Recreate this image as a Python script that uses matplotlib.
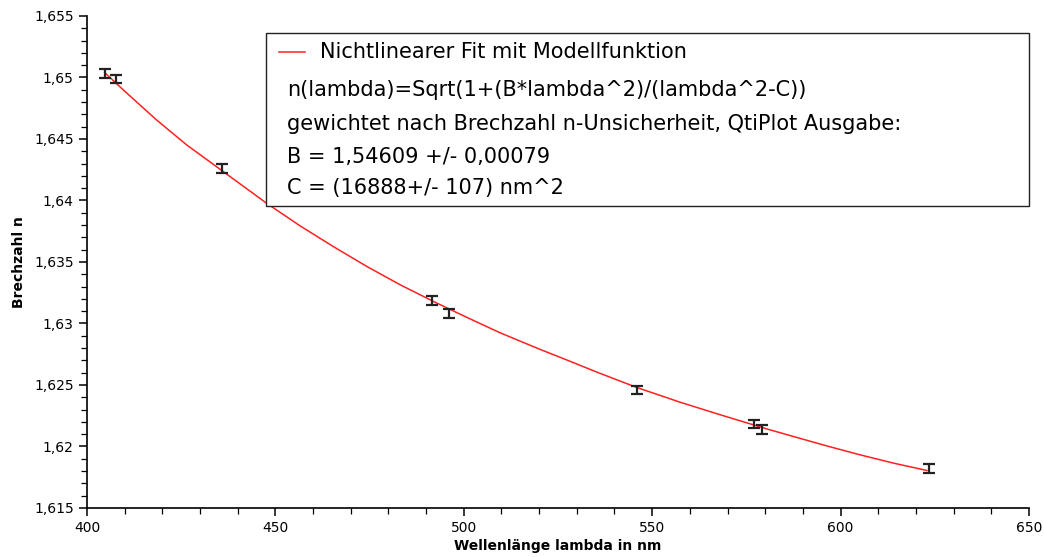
import matplotlib
matplotlib.use("Agg")
import matplotlib.pyplot as plt
from matplotlib.ticker import MultipleLocator, FuncFormatter
from matplotlib.patches import Rectangle
from matplotlib.lines import Line2D

# measured refractive index at the Hg lines (nm)
wavelength = [404.7, 407.8, 435.8, 491.6, 496.0, 546.1, 577.0, 579.1, 623.4]
n_measured = [1.65034, 1.64988, 1.64262, 1.63185, 1.63083, 1.62460, 1.62183, 1.62140, 1.61819]
n_error = [0.00035, 0.00035, 0.00035, 0.00035, 0.00035, 0.00035, 0.00035, 0.00035, 0.00035]

# fit curve
fit_wavelength = [404.7, 409.6, 418.5, 426.5, 435.5, 447.7, 456.5, 465.4, 474.2, 483.1,
                  491.9, 500.8, 509.6, 520.2, 526.4, 535.3, 545.9, 557.4, 568.9, 581.3,
                  587.4, 596.3, 605.2, 614.0, 622.9]
fit_n = [1.65040, 1.64900, 1.64654, 1.64451, 1.64250, 1.63977, 1.63795, 1.63625, 1.63465, 1.63315,
         1.63180, 1.63050, 1.62925, 1.62790, 1.62715, 1.62605, 1.62480, 1.62360, 1.62250, 1.62135,
         1.62082, 1.62005, 1.61932, 1.61865, 1.61805]

legend_lines = [
    "n(lambda)=Sqrt(1+(B*lambda^2)/(lambda^2-C))",
    "gewichtet nach Brechzahl n-Unsicherheit, QtiPlot Ausgabe:",
    "B = 1,54609 +/- 0,00079",
    "C = (16888+/- 107) nm^2",
]

fig = plt.figure(figsize=(10.44, 5.57), dpi=100)
ax = fig.add_axes([0.0833, 0.088, 0.9023, 0.8833])

ax.plot(fit_wavelength, fit_n, color="#ff2020", linewidth=1.1, zorder=2)
ax.errorbar(wavelength, n_measured, yerr=n_error, fmt="none", ecolor="#222222",
            elinewidth=1.6, capsize=4, capthick=1.6, zorder=3)

ax.set_xlim(400, 650)
ax.set_ylim(1.615, 1.655)
ax.xaxis.set_major_locator(MultipleLocator(50))
ax.xaxis.set_minor_locator(MultipleLocator(10))
ax.yaxis.set_major_locator(MultipleLocator(0.005))
ax.yaxis.set_minor_locator(MultipleLocator(0.001))
ax.yaxis.set_major_formatter(FuncFormatter(lambda v, p: ("%g" % round(v, 4)).replace(".", ",")))

for side in ["top", "right"]:
    ax.spines[side].set_visible(False)
for side in ["left", "bottom"]:
    ax.spines[side].set_linewidth(1.2)
ax.tick_params(which="major", direction="out", length=6, width=1.1, labelsize=10, colors="black")
ax.tick_params(which="minor", direction="out", length=4, width=0.9)

ax.set_xlabel("Wellenlänge lambda in nm", fontsize=10, fontweight="bold", labelpad=3)
ax.set_ylabel("Brechzahl n", fontsize=10, fontweight="bold", labelpad=6)

# legend box drawn by hand so the extra lines start under the handle
box = Rectangle((0.190, 0.614), 0.81, 0.352, transform=ax.transAxes, facecolor="white",
                edgecolor="#222222", linewidth=1.0, zorder=5, clip_on=False)
ax.add_patch(box)
ax.add_line(Line2D([0.204, 0.231], [0.927, 0.927], transform=ax.transAxes, color="#ff2020",
                   linewidth=1.1, zorder=6))
ax.text(0.247, 0.927, "Nichtlinearer Fit mit Modellfunktion", transform=ax.transAxes,
        fontsize=15, va="center", ha="left", zorder=6)
for y, line in zip([0.8496, 0.7805, 0.7134, 0.6504], legend_lines):
    ax.text(0.2123, y, line, transform=ax.transAxes, fontsize=15, va="center", ha="left", zorder=6)

fig.savefig("out.png", dpi=100)
